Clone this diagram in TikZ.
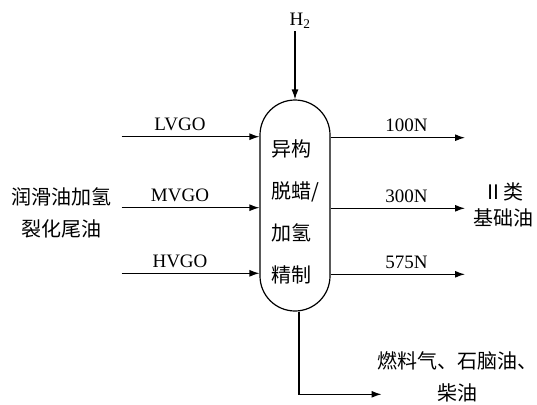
\documentclass[tikz,border=0pt]{standalone}
\usepackage{fontspec}
\setmainfont{Liberation Serif}
\newfontfamily\cjk{Noto Sans CJK SC}
\usetikzlibrary{arrows.meta}
\newcommand{\feedtext}{润滑油加氢\\裂化尾油}
\newcommand{\basetext}{Ⅱ类\\基础油}
\newcommand{\lighttext}{燃料气、石脑油、\\柴油}
\newcommand{\vesseltext}{异构\\脱蜡/\\加氢\\精制}

\begin{document}
\begin{tikzpicture}[
    x=1pt,y=-1pt,
    flow/.style={draw,line width=1.2pt,-{Latex[length=10pt,width=7pt]}},
    vessel/.style={draw,line width=1.2pt,minimum width=70pt,minimum height=211pt,%
                   rounded corners=35pt,inner sep=0pt},
    cjk/.style={font=\cjk\fontsize{20}{#1}\selectfont,align=center,inner sep=0pt},
    cjk/.default=24,
    lat/.style={font=\fontsize{19}{22}\selectfont,inner sep=0pt}
]
\useasboundingbox (0,0) rectangle (537,404);

% reactor
\node[vessel] (vessel) at (295,205.5) {};
\node[cjk=42, align=left, anchor=west] (vtext) at (271.5,211.5) {\vesseltext};

% hydrogen
\node[lat] (h2) at (300,21) {H\textsubscript{2}};
\coordinate (h2in) at (295,31.5);
\draw[flow] (h2in) -- (vessel.north);

% feeds
\coordinate (lvgo) at (121.5,136.7);
\coordinate (mvgo) at (121.5,207.7);
\coordinate (hvgo) at (121.5,273.3);
\draw[flow] (lvgo) -- (lvgo -| vessel.west);
\draw[flow] (mvgo) -- (mvgo -| vessel.west);
\draw[flow] (hvgo) -- (hvgo -| vessel.west);
\node[lat] (lvgotxt) at (180,124) {LVGO};
\node[lat] (mvgotxt) at (180,195) {MVGO};
\node[lat] (hvgotxt) at (180,261) {HVGO};
\node[cjk=31.5] (feed) at (61,213) {\feedtext};

% products
\coordinate (p100) at (465,137.7);
\coordinate (p300) at (465,208.3);
\coordinate (p575) at (465,274.3);
\draw[flow] (p100 -| vessel.east) -- (p100);
\draw[flow] (p300 -| vessel.east) -- (p300);
\draw[flow] (p575 -| vessel.east) -- (p575);
\node[lat] (t100) at (406.5,125) {100N};
\node[lat] (t300) at (406.5,196) {300N};
\node[lat] (t575) at (406.5,262) {575N};
\node[cjk=26.7] (base) at (503,205) {\basetext};

% light ends
\coordinate (light) at (381.5,394.3);
\draw[flow] ([xshift=4pt]vessel.south) |- (light);
\node[cjk=32] (lighttxt) at (457.5,377) {\lighttext};
\end{tikzpicture}
\end{document}
